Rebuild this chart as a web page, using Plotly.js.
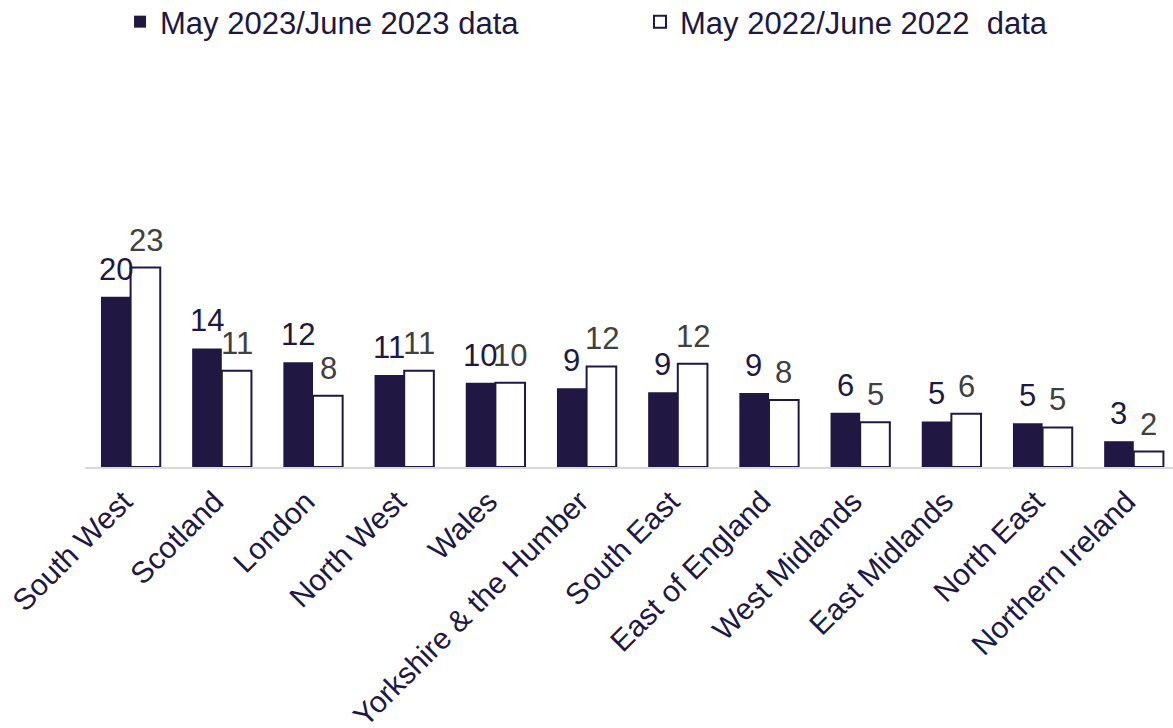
<!DOCTYPE html>
<html>
<head>
<meta charset="utf-8">
<script src="https://cdn.plot.ly/plotly-3.0.1.min.js"></script>
<style>html,body{margin:0;padding:0;background:#fff;}#chart{width:1173px;height:728px;}</style>
</head>
<body>
<div id="chart"></div>
<script>
const regions = ["South West", "Scotland", "London", "North West", "Wales", "Yorkshire & the Humber", "South East", "East of England", "West Midlands", "East Midlands", "North East", "Northern Ireland"];
const values2023 = [19.8, 13.8, 12.2, 10.7, 9.8, 9.15, 8.7, 8.6, 6.3, 5.3, 5.1, 3.0];
const values2022 = [23.2, 11.2, 8.3, 11.2, 9.8, 11.7, 12.0, 7.8, 5.2, 6.2, 4.6, 1.8];
const seriesNames = ["May 2023/June 2023 data", "May 2022/June 2022  data"];

const navy = "#201843";
const grey = "#404040";
const fontFam = "Liberation Sans, Arial, sans-serif";

const traces = [
  {
    type: "bar", name: seriesNames[0], x: regions, y: values2023,
    marker: {color: navy, line: {color: navy, width: 0}},
    legend: "legend",
    hoverinfo: "x+y"
  },
  {
    type: "bar", name: seriesNames[1], x: regions, y: values2022,
    marker: {color: "#ffffff", line: {color: navy, width: 2}},
    legend: "legend2",
    hoverinfo: "x+y"
  }
];

function labelAnns(vals, shift, color) {
  return regions.map((r, i) => ({
    x: r, y: vals[i], xref: "x", yref: "y",
    text: String(Math.round(vals[i])),
    showarrow: false, xanchor: "center", yanchor: "bottom",
    xshift: shift, yshift: 8,
    font: {family: fontFam, size: 31, color: color}
  }));
}

const annotations = labelAnns(values2023, -15, navy).concat(labelAnns(values2022, 15, grey));

const layout = {
  width: 1173, height: 728,
  margin: {l: 85, r: 0, t: 100, b: 261, autoexpand: false},
  paper_bgcolor: "#ffffff", plot_bgcolor: "#ffffff",
  barmode: "group", bargap: 0.35, bargroupgap: 0,
  font: {family: fontFam, color: navy},
  showlegend: true,
  legend: {
    x: 0.0322, xanchor: "left", y: 1.2125, yanchor: "middle",
    font: {family: fontFam, size: 31, color: navy},
    bgcolor: "rgba(0,0,0,0)", borderwidth: 0
  },
  legend2: {
    x: 0.5101, xanchor: "left", y: 1.2125, yanchor: "middle",
    font: {family: fontFam, size: 31, color: navy},
    bgcolor: "rgba(0,0,0,0)", borderwidth: 0
  },
  annotations: annotations,
  xaxis: {
    type: "category", range: [-0.5, 11.43],
    tickangle: -45, tickfont: {family: fontFam, size: 30, color: navy},
    ticklabelshift: -7, ticklabelstandoff: 3,
    showline: true, linecolor: "#d9d9d9", linewidth: 2,
    ticks: "", showgrid: false, zeroline: false, fixedrange: true
  },
  yaxis: {
    range: [0, 42.7], visible: false, showgrid: false, zeroline: false, fixedrange: true
  }
};

Plotly.newPlot("chart", traces, layout, {displayModeBar: false, staticPlot: true});
</script>
</body>
</html>
